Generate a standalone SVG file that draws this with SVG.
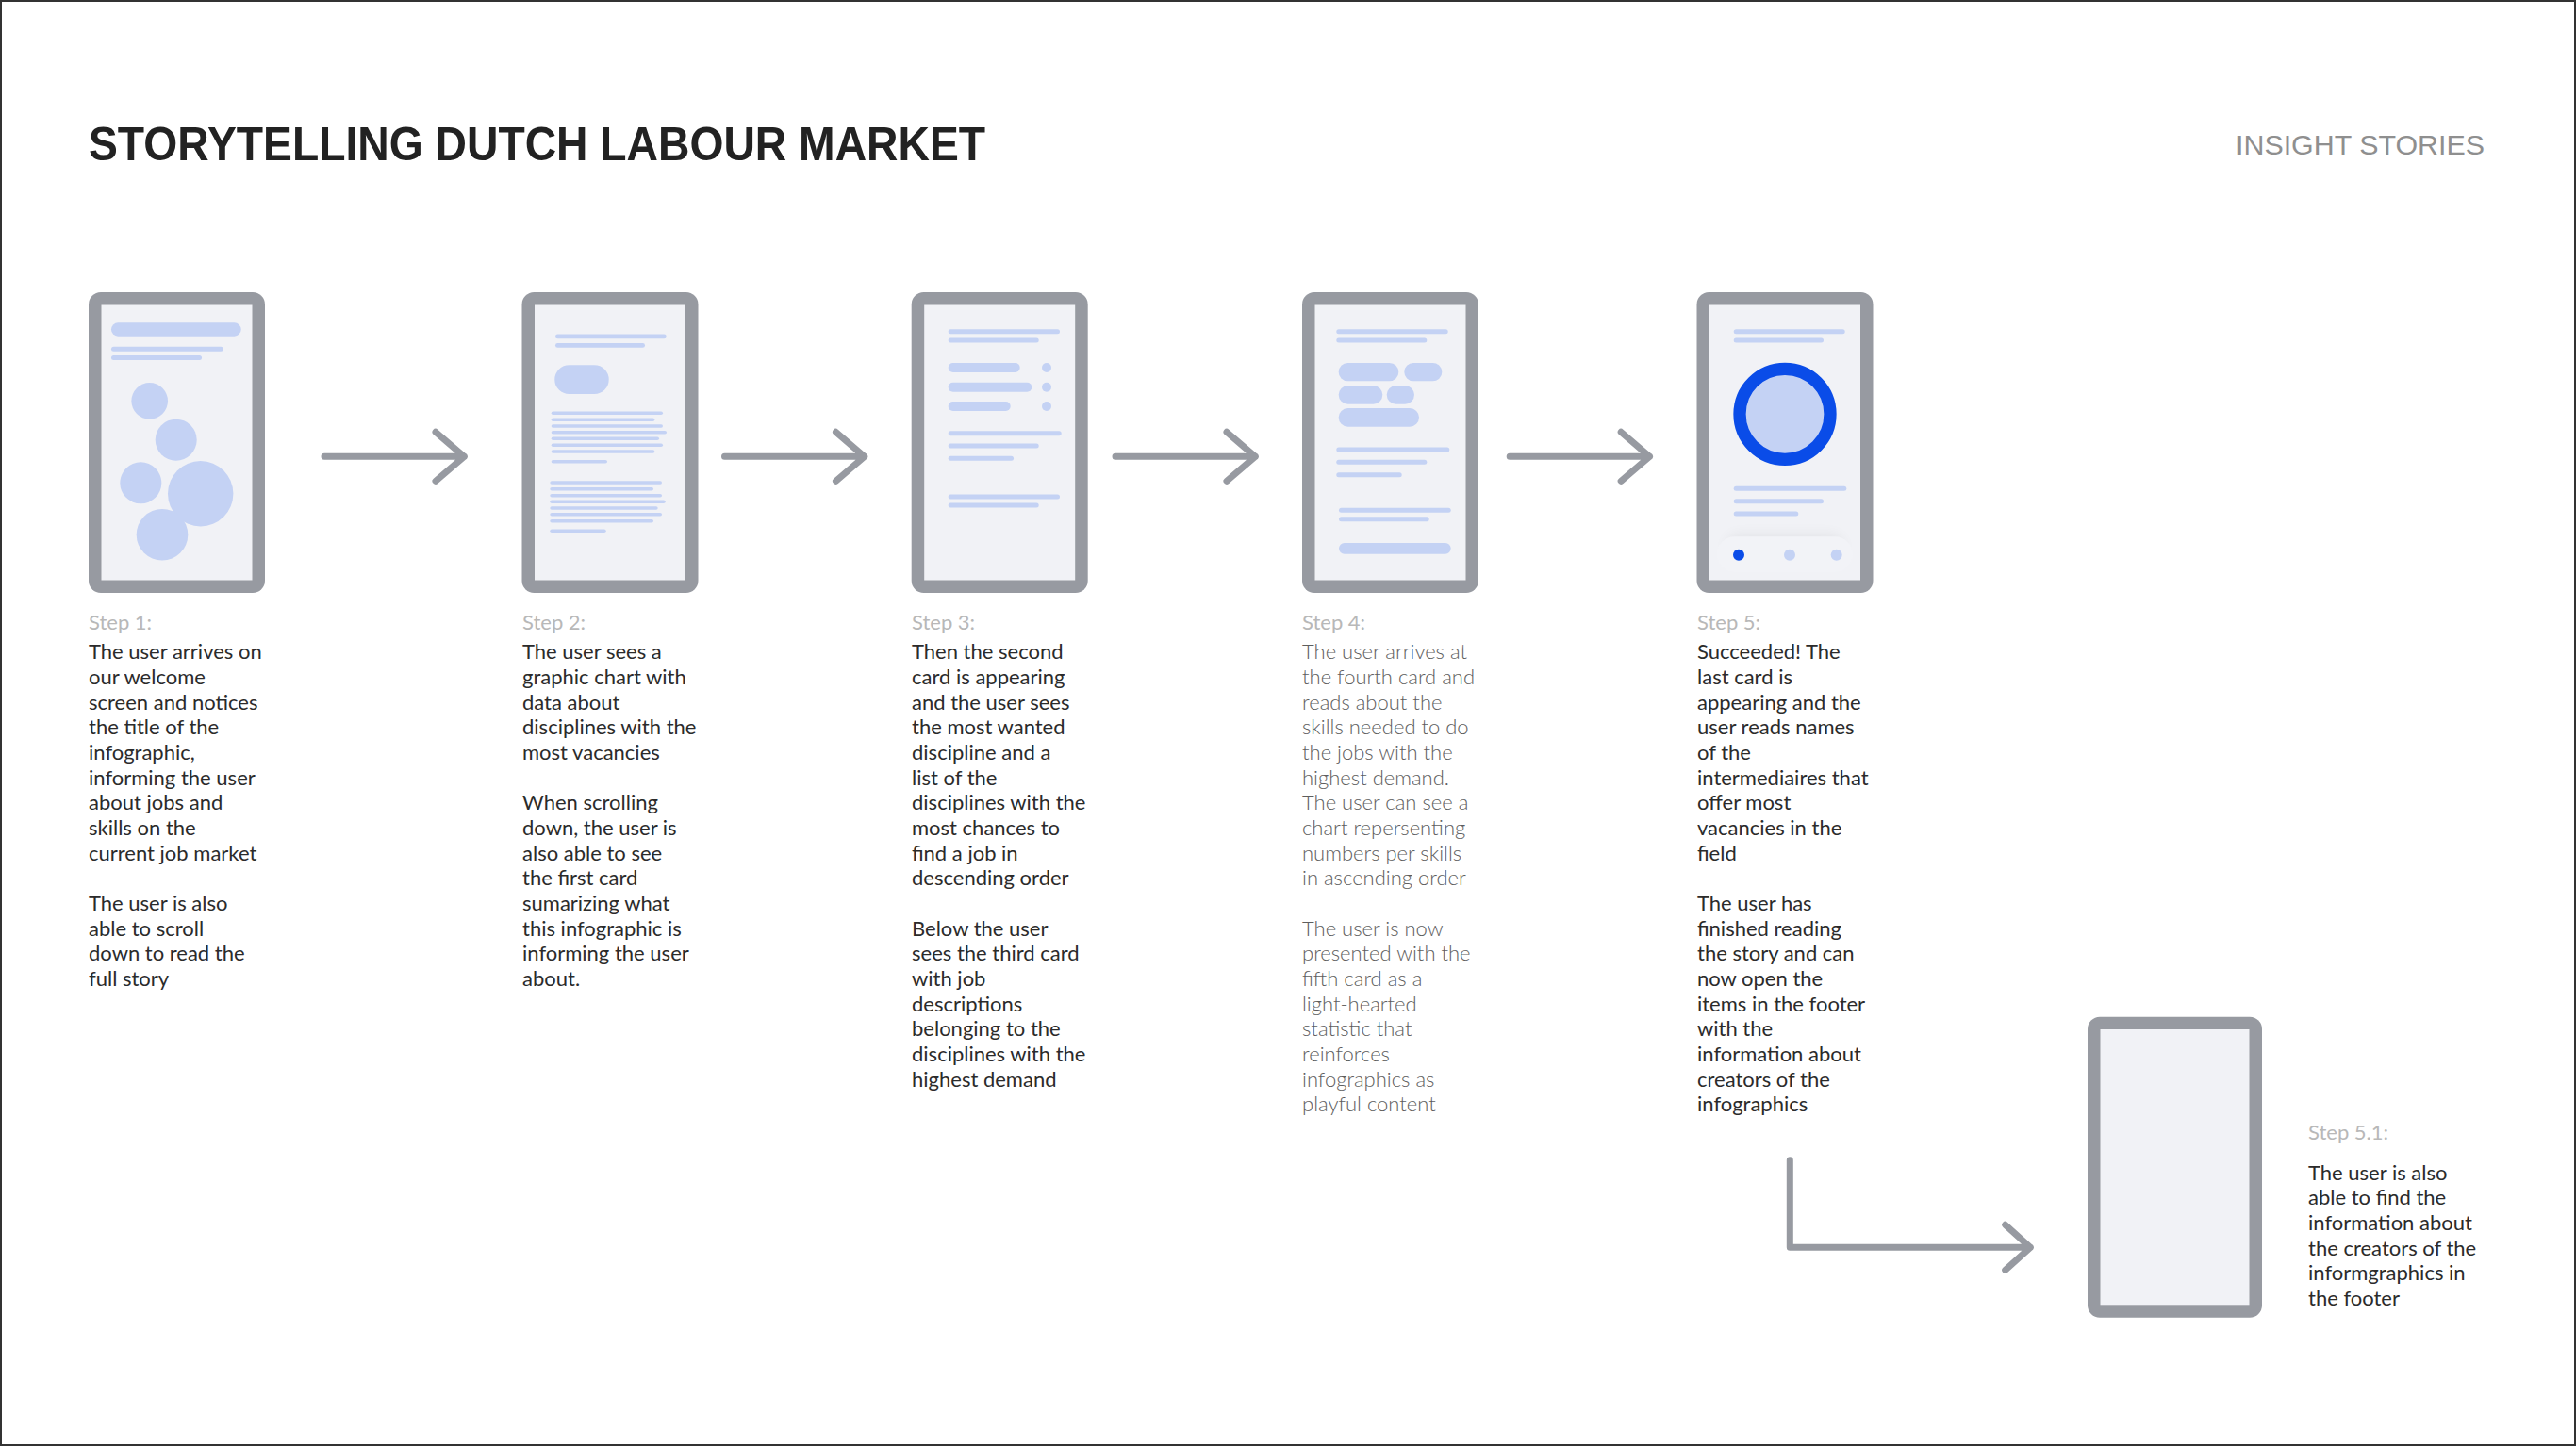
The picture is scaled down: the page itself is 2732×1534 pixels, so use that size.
<svg xmlns="http://www.w3.org/2000/svg" width="2732" height="1534" viewBox="0 0 2732 1534">
<defs>
<style>
.frame{fill:#979aa1}
.screen{fill:#f1f2f6}
.b{fill:#c4d2f4}
.conn{fill:none;stroke:#979aa1;stroke-width:7;stroke-linecap:round;stroke-linejoin:round}
.label{font-family:Lato,"Liberation Sans",sans-serif;font-size:22px;fill:#b8b8b8}
.body{font-family:Lato,"Liberation Sans",sans-serif;font-size:22px;fill:#2b2b2b}
.light{fill:#5e5e5e;font-weight:300}
</style>
<filter id="sh" x="-20%" y="-80%" width="140%" height="200%">
<feGaussianBlur stdDeviation="7"/>
</filter>
</defs>
<rect x="1" y="1" width="2730" height="1532" fill="#ffffff" stroke="#333333" stroke-width="2"/>
<text x="94" y="170" font-family="'Liberation Sans',Arial,sans-serif" font-weight="bold" font-size="50" fill="#222222" textLength="951" lengthAdjust="spacingAndGlyphs">STORYTELLING DUTCH LABOUR MARKET</text>
<text x="2371" y="164" font-family="'Liberation Sans',Arial,sans-serif" font-size="30" fill="#8f8f8f" textLength="264" lengthAdjust="spacingAndGlyphs">INSIGHT STORIES</text>

<g id="phone1">
<rect class="frame" x="94" y="310" width="187" height="319" rx="13"/>
<rect class="screen" x="107.5" y="323.5" width="160" height="292"/>
<rect class="b" x="118" y="342.3" width="137.7" height="14.4" rx="7.2"/>
<rect class="b" x="118" y="367.7" width="118.7" height="5" rx="2.5"/>
<rect class="b" x="118" y="377" width="96" height="5" rx="2.5"/>
<circle class="b" cx="158.7" cy="425.3" r="19.3"/>
<circle class="b" cx="186.7" cy="466.7" r="22"/>
<circle class="b" cx="149.3" cy="512.3" r="22"/>
<circle class="b" cx="212.7" cy="523.7" r="34.7"/>
<circle class="b" cx="172" cy="567.3" r="27.3"/>
</g>

<g id="phone2">
<rect class="frame" x="553.5" y="310" width="187" height="319" rx="13"/>
<rect class="screen" x="567" y="323.5" width="160" height="292"/>
<rect class="b" x="589" y="354.5" width="117.7" height="4.8" rx="2.4"/>
<rect class="b" x="589" y="364" width="95" height="4.8" rx="2.4"/>
<rect class="b" x="588.3" y="387.3" width="57.4" height="30.7" rx="15.3"/>
<g>
<rect class="b" x="584.7" y="436.5" width="118.3" height="3.6" rx="1.8"/>
<rect class="b" x="584.7" y="443.5" width="109.6" height="3.6" rx="1.8"/>
<rect class="b" x="584.7" y="450.2" width="118.3" height="3.6" rx="1.8"/>
<rect class="b" x="584.7" y="456.9" width="122.3" height="3.6" rx="1.8"/>
<rect class="b" x="584.7" y="463.5" width="114.3" height="3.6" rx="1.8"/>
<rect class="b" x="584.7" y="470.5" width="118.3" height="3.6" rx="1.8"/>
<rect class="b" x="584.7" y="477.2" width="109.6" height="3.6" rx="1.8"/>
<rect class="b" x="584.7" y="487.9" width="59.3" height="3.6" rx="1.8"/>
<rect class="b" x="583.3" y="510.2" width="118.7" height="3.6" rx="1.8"/>
<rect class="b" x="583.3" y="516.9" width="109.7" height="3.6" rx="1.8"/>
<rect class="b" x="583.3" y="523.9" width="118.7" height="3.6" rx="1.8"/>
<rect class="b" x="583.3" y="530.5" width="122.4" height="3.6" rx="1.8"/>
<rect class="b" x="583.3" y="537.2" width="114.4" height="3.6" rx="1.8"/>
<rect class="b" x="583.3" y="543.9" width="118.7" height="3.6" rx="1.8"/>
<rect class="b" x="583.3" y="550.9" width="109.7" height="3.6" rx="1.8"/>
<rect class="b" x="583.3" y="561.5" width="59.4" height="3.6" rx="1.8"/>
</g>
</g>

<g id="phone3">
<rect class="frame" x="966.7" y="310" width="187" height="319" rx="13"/>
<rect class="screen" x="980.2" y="323.5" width="160" height="292"/>
<rect class="b" x="1005.7" y="349.2" width="118.3" height="5" rx="2.5"/>
<rect class="b" x="1005.7" y="358.5" width="96" height="5" rx="2.5"/>
<rect class="b" x="1005.7" y="385" width="76" height="10" rx="5"/>
<circle class="b" cx="1110" cy="390" r="5"/>
<rect class="b" x="1005.7" y="405.7" width="88.6" height="10" rx="5"/>
<circle class="b" cx="1110" cy="410.7" r="5"/>
<rect class="b" x="1005.7" y="426" width="66" height="10" rx="5"/>
<circle class="b" cx="1110" cy="431" r="5"/>
<rect class="b" x="1005.7" y="457.2" width="120" height="5" rx="2.5"/>
<rect class="b" x="1005.7" y="470.5" width="96" height="5" rx="2.5"/>
<rect class="b" x="1005.7" y="483.8" width="69.3" height="5" rx="2.5"/>
<rect class="b" x="1005.7" y="524.5" width="118.3" height="5" rx="2.5"/>
<rect class="b" x="1005.7" y="533.5" width="96" height="5" rx="2.5"/>
</g>

<g id="phone4">
<rect class="frame" x="1381" y="310" width="187" height="319" rx="13"/>
<rect class="screen" x="1394.5" y="323.5" width="160" height="292"/>
<rect class="b" x="1417.3" y="349.2" width="118.4" height="5" rx="2.5"/>
<rect class="b" x="1417.3" y="358.5" width="96" height="5" rx="2.5"/>
<rect class="b" x="1419.7" y="385" width="63.6" height="19.3" rx="9.65"/>
<rect class="b" x="1489.3" y="385" width="40" height="19.3" rx="9.65"/>
<rect class="b" x="1419.7" y="409" width="46.6" height="19.7" rx="9.85"/>
<rect class="b" x="1470.7" y="409" width="29.3" height="19.7" rx="9.85"/>
<rect class="b" x="1419.7" y="433" width="85.3" height="19.7" rx="9.85"/>
<rect class="b" x="1417.3" y="474.5" width="120" height="5" rx="2.5"/>
<rect class="b" x="1417.3" y="487.8" width="96" height="5" rx="2.5"/>
<rect class="b" x="1417.3" y="501.2" width="69.4" height="5" rx="2.5"/>
<rect class="b" x="1420" y="538.8" width="118.7" height="5" rx="2.5"/>
<rect class="b" x="1420" y="548.2" width="95.7" height="5" rx="2.5"/>
<rect class="b" x="1420" y="576" width="118.7" height="11.7" rx="5.85"/>
</g>

<g id="phone5">
<rect class="frame" x="1799.5" y="310" width="187" height="319" rx="13"/>
<rect class="screen" x="1813" y="323.5" width="160" height="292"/>
<rect class="b" x="1838.7" y="349.2" width="118" height="5" rx="2.5"/>
<rect class="b" x="1838.7" y="358.5" width="95.3" height="5" rx="2.5"/>
<circle cx="1893" cy="439.3" r="48" fill="#c4d2f4" stroke="#0a4ce8" stroke-width="13.3"/>
<rect class="b" x="1838.7" y="515.8" width="119.6" height="5" rx="2.5"/>
<rect class="b" x="1838.7" y="529.2" width="95.3" height="5" rx="2.5"/>
<rect class="b" x="1838.7" y="542.5" width="68.6" height="5" rx="2.5"/>
<rect x="1830" y="566" width="126" height="30" rx="15" fill="#000000" opacity="0.05" filter="url(#sh)"/>
<rect x="1820.7" y="569.3" width="144.3" height="37.4" rx="18.7" fill="#f2f3f7"/>
<circle cx="1844" cy="588.7" r="6" fill="#0a4ce8"/>
<circle class="b" cx="1898" cy="588.7" r="6"/>
<circle class="b" cx="1947.7" cy="588.7" r="6"/>
</g>

<g id="phone51">
<rect class="frame" x="2214" y="1078.7" width="185" height="319" rx="13"/>
<rect class="screen" x="2227.5" y="1092" width="158" height="292.3"/>
</g>

<g id="connectors">
<path class="conn" d="M344 484.3H492.3M462 458.3L492.3 484.3L462 510.3"/>
<path class="conn" d="M768.5 484.3H916.8M886.5 458.3L916.8 484.3L886.5 510.3"/>
<path class="conn" d="M1183 484.3H1331.3M1301 458.3L1331.3 484.3L1301 510.3"/>
<path class="conn" d="M1601.2 484.3H1749.5M1719.2 458.3L1749.5 484.3L1719.2 510.3"/>
<path class="conn" d="M1898.3 1230.7V1323.3H2153.3M2126.7 1299.3L2153.3 1323.3L2126.7 1347.3"/>
</g>

<g id="step1">
<text class="label" x="94" y="668">Step 1:</text>
<text class="body" x="94" y="699.3">
<tspan x="94" dy="0">The user arrives on</tspan>
<tspan x="94" dy="26.67">our welcome</tspan>
<tspan x="94" dy="26.67">screen and notices</tspan>
<tspan x="94" dy="26.67">the title of the</tspan>
<tspan x="94" dy="26.67">infographic,</tspan>
<tspan x="94" dy="26.67">informing the user</tspan>
<tspan x="94" dy="26.67">about jobs and</tspan>
<tspan x="94" dy="26.67">skills on the</tspan>
<tspan x="94" dy="26.67">current job market</tspan>
<tspan x="94" dy="53.34">The user is also</tspan>
<tspan x="94" dy="26.67">able to scroll</tspan>
<tspan x="94" dy="26.67">down to read the</tspan>
<tspan x="94" dy="26.67">full story</tspan>
</text>
</g>

<g id="step2">
<text class="label" x="554" y="668">Step 2:</text>
<text class="body" x="554" y="699.3">
<tspan x="554" dy="0">The user sees a</tspan>
<tspan x="554" dy="26.67">graphic chart with</tspan>
<tspan x="554" dy="26.67">data about</tspan>
<tspan x="554" dy="26.67">disciplines with the</tspan>
<tspan x="554" dy="26.67">most vacancies</tspan>
<tspan x="554" dy="53.34">When scrolling</tspan>
<tspan x="554" dy="26.67">down, the user is</tspan>
<tspan x="554" dy="26.67">also able to see</tspan>
<tspan x="554" dy="26.67">the first card</tspan>
<tspan x="554" dy="26.67">sumarizing what</tspan>
<tspan x="554" dy="26.67">this infographic is</tspan>
<tspan x="554" dy="26.67">informing the user</tspan>
<tspan x="554" dy="26.67">about.</tspan>
</text>
</g>

<g id="step3">
<text class="label" x="967" y="668">Step 3:</text>
<text class="body" x="967" y="699.3">
<tspan x="967" dy="0">Then the second</tspan>
<tspan x="967" dy="26.67">card is appearing</tspan>
<tspan x="967" dy="26.67">and the user sees</tspan>
<tspan x="967" dy="26.67">the most wanted</tspan>
<tspan x="967" dy="26.67">discipline and a</tspan>
<tspan x="967" dy="26.67">list of the</tspan>
<tspan x="967" dy="26.67">disciplines with the</tspan>
<tspan x="967" dy="26.67">most chances to</tspan>
<tspan x="967" dy="26.67">find a job in</tspan>
<tspan x="967" dy="26.67">descending order</tspan>
<tspan x="967" dy="53.34">Below the user</tspan>
<tspan x="967" dy="26.67">sees the third card</tspan>
<tspan x="967" dy="26.67">with job</tspan>
<tspan x="967" dy="26.67">descriptions</tspan>
<tspan x="967" dy="26.67">belonging to the</tspan>
<tspan x="967" dy="26.67">disciplines with the</tspan>
<tspan x="967" dy="26.67">highest demand</tspan>
</text>
</g>

<g id="step4">
<text class="label" x="1381" y="668">Step 4:</text>
<text class="body light" x="1381" y="699.3">
<tspan x="1381" dy="0">The user arrives at</tspan>
<tspan x="1381" dy="26.67">the fourth card and</tspan>
<tspan x="1381" dy="26.67">reads about the</tspan>
<tspan x="1381" dy="26.67">skills needed to do</tspan>
<tspan x="1381" dy="26.67">the jobs with the</tspan>
<tspan x="1381" dy="26.67">highest demand.</tspan>
<tspan x="1381" dy="26.67">The user can see a</tspan>
<tspan x="1381" dy="26.67">chart repersenting</tspan>
<tspan x="1381" dy="26.67">numbers per skills</tspan>
<tspan x="1381" dy="26.67">in ascending order</tspan>
<tspan x="1381" dy="53.34">The user is now</tspan>
<tspan x="1381" dy="26.67">presented with the</tspan>
<tspan x="1381" dy="26.67">fifth card as a</tspan>
<tspan x="1381" dy="26.67">light-hearted</tspan>
<tspan x="1381" dy="26.67">statistic that</tspan>
<tspan x="1381" dy="26.67">reinforces</tspan>
<tspan x="1381" dy="26.67">infographics as</tspan>
<tspan x="1381" dy="26.67">playful content</tspan>
</text>
</g>

<g id="step5">
<text class="label" x="1800" y="668">Step 5:</text>
<text class="body" x="1800" y="699.3">
<tspan x="1800" dy="0">Succeeded! The</tspan>
<tspan x="1800" dy="26.67">last card is</tspan>
<tspan x="1800" dy="26.67">appearing and the</tspan>
<tspan x="1800" dy="26.67">user reads names</tspan>
<tspan x="1800" dy="26.67">of the</tspan>
<tspan x="1800" dy="26.67">intermediaires that</tspan>
<tspan x="1800" dy="26.67">offer most</tspan>
<tspan x="1800" dy="26.67">vacancies in the</tspan>
<tspan x="1800" dy="26.67">field</tspan>
<tspan x="1800" dy="53.34">The user has</tspan>
<tspan x="1800" dy="26.67">finished reading</tspan>
<tspan x="1800" dy="26.67">the story and can</tspan>
<tspan x="1800" dy="26.67">now open the</tspan>
<tspan x="1800" dy="26.67">items in the footer</tspan>
<tspan x="1800" dy="26.67">with the</tspan>
<tspan x="1800" dy="26.67">information about</tspan>
<tspan x="1800" dy="26.67">creators of the</tspan>
<tspan x="1800" dy="26.67">infographics</tspan>
</text>
</g>

<g id="step51">
<text class="label" x="2448" y="1209" fill="#c4c4c4">Step 5.1:</text>
<text class="body" x="2448" y="1251.7">
<tspan x="2448" dy="0">The user is also</tspan>
<tspan x="2448" dy="26.67">able to find the</tspan>
<tspan x="2448" dy="26.67">information about</tspan>
<tspan x="2448" dy="26.67">the creators of the</tspan>
<tspan x="2448" dy="26.67">informgraphics in</tspan>
<tspan x="2448" dy="26.67">the footer</tspan>
</text>
</g>
</svg>
